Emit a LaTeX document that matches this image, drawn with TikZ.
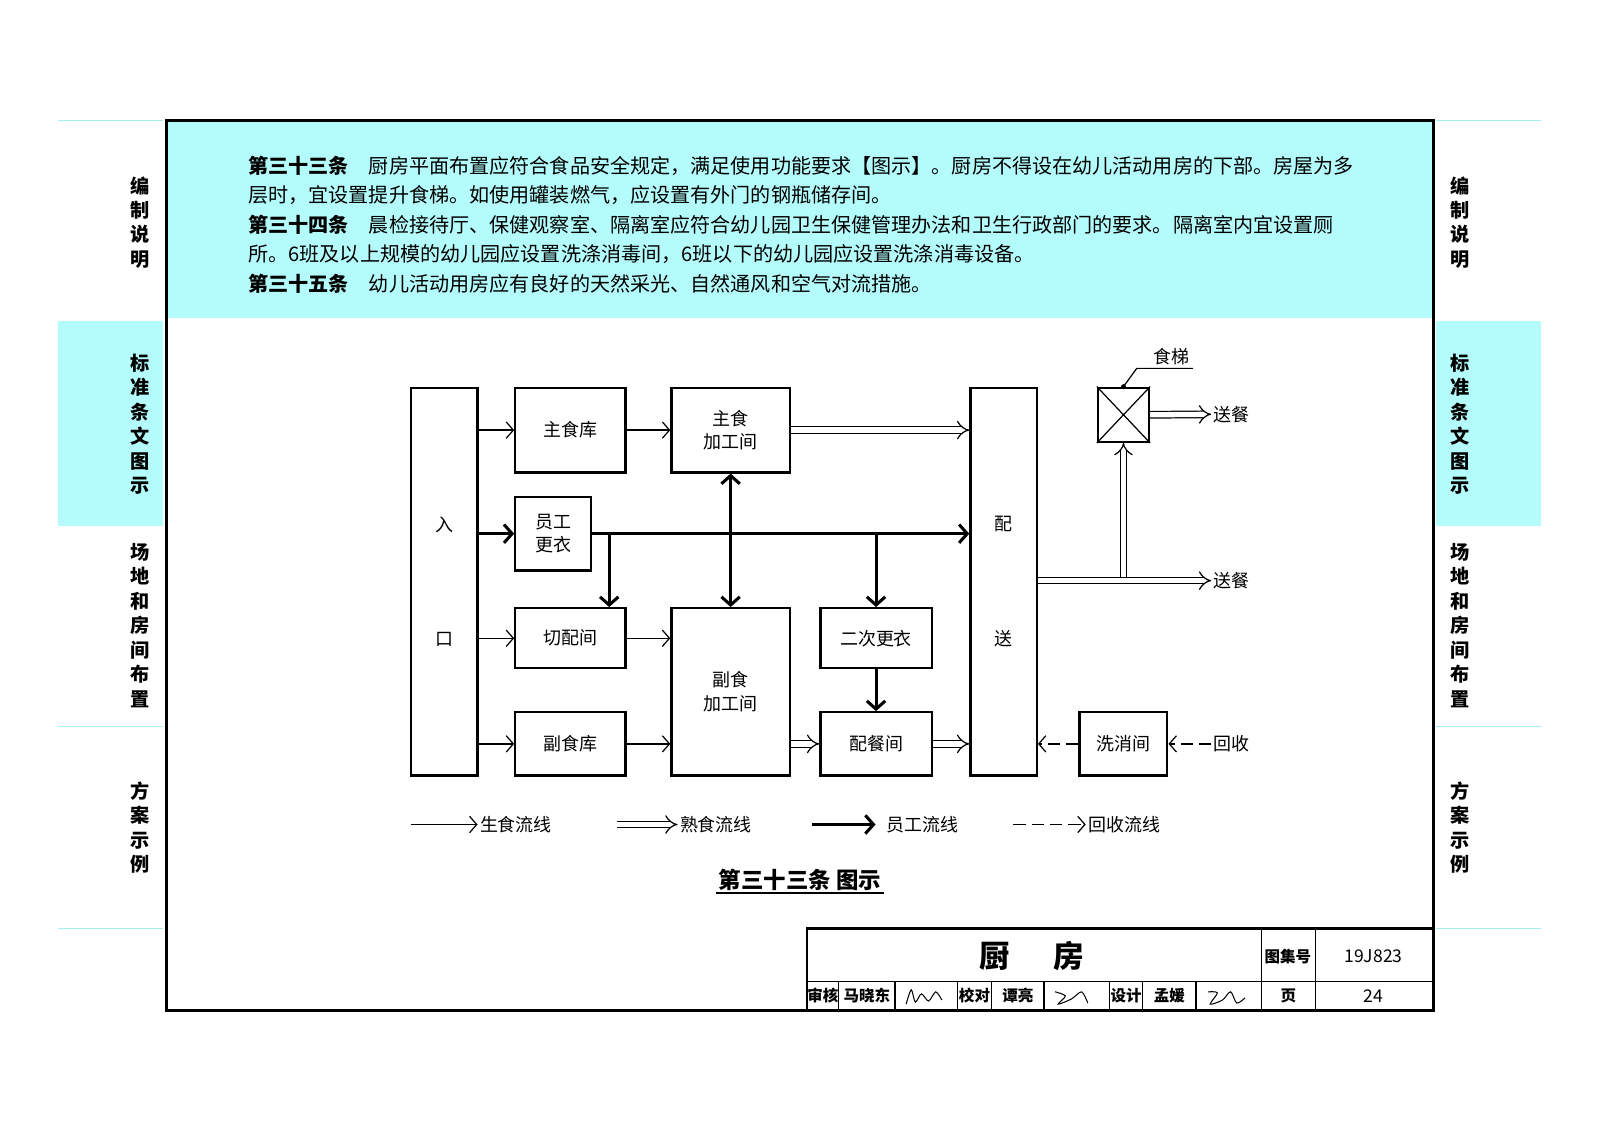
\documentclass[tikz,border=0pt]{standalone}
\usepackage{fontspec}
\setmainfont{Noto Sans CJK SC}
\usetikzlibrary{arrows.meta}
\definecolor{tabcyan}{RGB}{180,252,252}
\definecolor{tabline}{RGB}{165,238,238}
\tikzset{
  room/.style={draw,line width=1.1pt,inner sep=0pt,align=center,font=\fontsize{8.8}{11.5}\selectfont},
  tag/.style={inner sep=1pt,font=\fontsize{8.8}{11.5}\selectfont},
  raw/.style={line width=0.6pt,-{Straight Barb[length=3.5pt,width=8pt]}},
  cooked/.style={double,double distance=2.6pt,line width=0.6pt,-{Implies[length=3.5pt,width=9pt]}},
  staff/.style={line width=1.5pt,-{Straight Barb[length=4pt,width=9pt]}},
  staffboth/.style={line width=1.5pt,{Straight Barb[length=4pt,width=9pt]}-{Straight Barb[length=4pt,width=9pt]}},
  back/.style={line width=0.6pt,dash pattern=on 6pt off 3pt,-{Straight Barb[length=3.5pt,width=8pt]}},
  tabtext/.style={align=center,font=\bfseries\fontsize{9.4}{12}\selectfont},
  cell/.style={inner sep=0pt,font=\bfseries\fontsize{7.6}{9}\selectfont},
}
\begin{document}
\begin{tikzpicture}[x=0.5pt,y=-0.5pt]
\useasboundingbox (0,0) rectangle (1568,1108);
\fill[tabcyan] (163,118) rectangle (1405,312);
\fill[tabcyan] (57,315) rectangle (160,515);
\fill[tabcyan] (1407,315) rectangle (1510,515);
\foreach \y in {118,712,910} {
  \draw[tabline,line width=0.6pt] (57,\y) -- (160,\y);
  \draw[tabline,line width=0.6pt] (1407,\y) -- (1510,\y);
}
\foreach \x/\s in {137/l,1431/r} {
  \foreach \y/\t [count=\i] in {218/编\\制\\说\\明,415.5/标\\准\\条\\文\\图\\示,613/场\\地\\和\\房\\间\\布\\置,811/方\\案\\示\\例}
    \node[tabtext] (tab\s\i) at (\x,\y) {\t};
}
\draw[line width=1.5pt] (163,118) rectangle (1405,990);

\node[anchor=west,align=left,inner sep=0pt,font=\fontsize{9.85}{14.5}\selectfont] (rules) at (243,220)
  {\textbf{第三十三条}\quad 厨房平面布置应符合食品安全规定，满足使用功能要求【图示】。厨房不得设在幼儿活动用房的下部。房屋为多\\
   层时，宜设置提升食梯。如使用罐装燃气，应设置有外门的钢瓶储存间。\\
   \textbf{第三十四条}\quad 晨检接待厅、保健观察室、隔离室应符合幼儿园卫生保健管理办法和卫生行政部门的要求。隔离室内宜设置厕\\
   所。6班及以上规模的幼儿园应设置洗涤消毒间，6班以下的幼儿园应设置洗涤消毒设备。\\
   \textbf{第三十五条}\quad 幼儿活动用房应有良好的天然采光、自然通风和空气对流措施。};

\node[room,minimum width=32.5pt,minimum height=190pt,font=\fontsize{8.8}{56}\selectfont] (entry) at (435.5,570) {入\\口};
\node[room,minimum width=54pt,minimum height=41.5pt] (zsk) at (559,421.5) {主食库};
\node[room,minimum width=58pt,minimum height=41.5pt] (zsjg) at (716,421.5) {主食\\加工间};
\node[room,minimum width=37pt,minimum height=36pt] (ygx) at (542,523) {员工\\更衣};
\node[room,minimum width=54pt,minimum height=29.5pt] (qpj) at (559,625.5) {切配间};
\node[room,minimum width=54pt,minimum height=31pt] (fsk) at (559,729) {副食库};
\node[room,minimum width=58pt,minimum height=82pt] (fsjg) at (716,678) {副食\\加工间};
\node[room,minimum width=54.5pt,minimum height=29.5pt] (ecgy) at (858.5,625.5) {二次更衣};
\node[room,minimum width=54.5pt,minimum height=31pt] (pcj) at (858.5,729) {配餐间};
\node[room,minimum width=32.5pt,minimum height=190pt,font=\fontsize{8.8}{56}\selectfont] (ps) at (983.5,570) {配\\送};
\node[room,minimum width=25pt,minimum height=26.5pt] (lift) at (1101,406.5) {};
\node[room,minimum width=43pt,minimum height=31pt] (xxj) at (1101,729) {洗消间};
\draw[line width=0.6pt] (lift.north west) -- (lift.south east) (lift.north east) -- (lift.south west);
\node[tag] (liftname) at (1148,349) {食梯};
\coordinate (leader) at (1169,361);
\fill (lift.north) circle (1.2pt);
\draw[line width=0.6pt] (lift.north) -- (1114,361) -- (leader);
\node[tag,anchor=west] (sc1) at (1187,406) {送餐};
\node[tag,anchor=west] (sc2) at (1187,569) {送餐};
\node[tag,anchor=west] (hs) at (1187,729) {回收};

\draw[raw] (entry.east |- zsk.west) -- (zsk.west);
\draw[raw] (zsk.east) -- (zsjg.west);
\draw[raw] (entry.east |- qpj.west) -- (qpj.west);
\draw[raw] (qpj.east) -- (qpj.east -| fsjg.west);
\draw[raw] (entry.east |- fsk.west) -- (fsk.west);
\draw[raw] (fsk.east) -- (fsk.east -| fsjg.west);

\draw[cooked] (zsjg.east) -- (zsjg.east -| ps.west);
\draw[cooked] (fsjg.east |- pcj.west) -- (pcj.west);
\draw[cooked] (pcj.east) -- (pcj.east -| ps.west);
\draw[cooked] (ps.east |- sc2.west) -- (sc2.west);
\draw[cooked] ([yshift=1.6pt]lift.south |- sc2.west) -- (lift.south);
\draw[cooked] (lift.east) -- (sc1.west);

\coordinate (b1) at (597,523);
\draw[staff] (entry.east |- ygx.west) -- (ygx.west);
\draw[staff] (ygx.east) -- (ygx.east -| ps.west);
\draw[staff] (b1) -- (b1 |- qpj.north);
\draw[staffboth] (zsjg.south) -- (fsjg.north);
\draw[staff] (ecgy.north |- ygx.east) -- (ecgy.north);
\draw[staff] (ecgy.south) -- (pcj.north);

\draw[back] (hs.west) -- (xxj.east);
\draw[back] (xxj.west) -- (xxj.west -| ps.east);

\coordinate (lg1) at (403,808);
\coordinate (lg2) at (605,808);
\coordinate (lg3) at (796,808);
\coordinate (lg4) at (993,808);
\node[tag,anchor=west] (lt1) at (468,808) {生食流线};
\node[tag,anchor=west] (lt2) at (664,808) {熟食流线};
\node[tag,anchor=west] (lt3) at (866,808) {员工流线};
\node[tag,anchor=west] (lt4) at (1064,808) {回收流线};
\draw[raw] (lg1) -- (lt1.west);
\draw[cooked] (lg2) -- (lt2.west);
\draw[staff] (lg3) -- ([xshift=-4pt]lt3.west);
\draw[back] (lg4) -- (lt4.west);

\node[inner sep=1pt,font=\bfseries\fontsize{11}{13}\selectfont] (cap) at (784,862) {第三十三条\ 图示};
\draw[line width=0.9pt] (cap.south west) -- (cap.south east);

\draw[line width=1.1pt] (791,910) rectangle (1405,990);
\draw[line width=0.6pt] (791,962) -- (1236,962) (1236,910) -- (1236,990) (1289,910) -- (1289,990) (1236,962) -- (1405,962);
\foreach \x in {822,877,938,972,1023,1087,1120,1172}
  \draw[line width=0.6pt] (\x,962) -- (\x,990);
\node[font=\bfseries\fontsize{15}{18}\selectfont] (title) at (1011,937) {厨\hspace{21pt}房};
\node[cell] (atlas) at (1262,937) {图集号};
\node[inner sep=0pt,font=\fontsize{8.6}{10}\selectfont] (atlasno) at (1346,937) {19J823};
\foreach \x/\t [count=\i] in {806.5/审核,849.5/马晓东,955/校对,997.5/谭亮,1103.5/设计,1146/孟媛,1262.5/页}
  \node[cell] (sign\i) at (\x,976) {\t};
\node[inner sep=0pt,font=\fontsize{8.6}{10}\selectfont] (pageno) at (1346,976) {24};
\draw[line width=0.5pt] plot[smooth] coordinates {(888,984) (893,970) (897,982) (903,974) (910,981) (917,972) (923,980)};
\draw[line width=0.5pt] plot[smooth] coordinates {(1034,972) (1044,976) (1037,984) (1050,979) (1060,972) (1066,983)};
\draw[line width=0.5pt] plot[smooth] coordinates {(1184,972) (1193,973) (1186,984) (1198,980) (1206,972) (1212,983) (1220,978)};
\end{tikzpicture}
\end{document}
